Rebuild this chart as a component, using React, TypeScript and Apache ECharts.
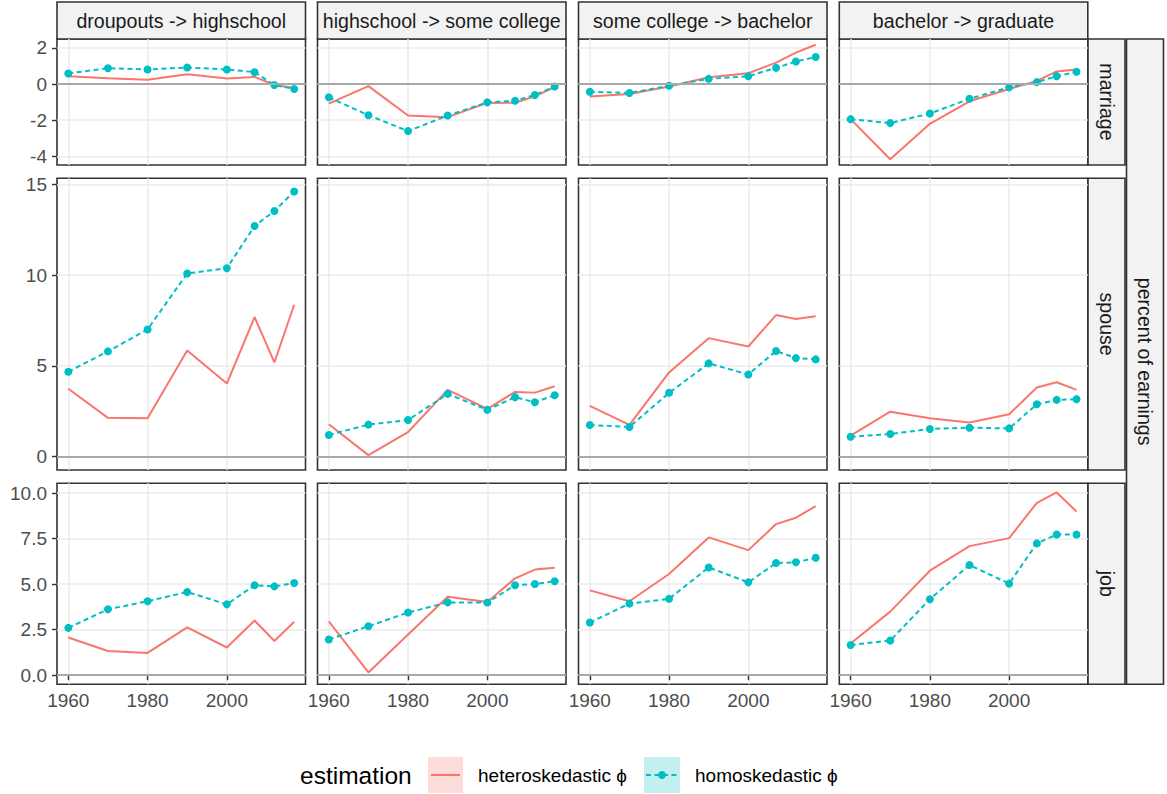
import React, { useEffect, useRef } from "react";
import * as echarts from "echarts";

const years = [1960, 1970, 1980, 1990, 2000, 2007, 2012, 2017];
const transitions = [
  "droupouts -> highschool",
  "highschool -> some college",
  "some college -> bachelor",
  "bachelor -> graduate",
];
const outcomes = ["marriage", "spouse", "job"];
const xTicks = [1960, 1980, 2000];
const yTicksMarriage = [-4, -2, 0, 2];
const yTicksSpouse = [0, 5, 10, 15];
const yTicksJob = [0, 2.5, 5, 7.5, 10];

// heteroskedastic phi, one list per transition (column)
const marriageHetero = [
  [0.44, 0.33, 0.24, 0.55, 0.31, 0.4, -0.05, -0.22],
  [-1.08, -0.11, -1.74, -1.83, -1.04, -1.03, -0.68, -0.16],
  [-0.68, -0.55, -0.13, 0.38, 0.6, 1.19, 1.74, 2.18],
  [-1.94, -4.16, -2.2, -0.95, -0.27, 0.18, 0.7, 0.81],
];
const marriageHomo = [
  [0.59, 0.88, 0.81, 0.92, 0.81, 0.66, -0.05, -0.27],
  [-0.73, -1.72, -2.6, -1.74, -1.01, -0.92, -0.6, -0.13],
  [-0.42, -0.49, -0.09, 0.29, 0.44, 0.9, 1.25, 1.5],
  [-1.94, -2.16, -1.63, -0.81, -0.18, 0.11, 0.44, 0.68],
];
const spouseHetero = [
  [3.74, 2.14, 2.12, 5.85, 4.03, 7.69, 5.19, 8.37],
  [1.79, 0.09, 1.36, 3.68, 2.63, 3.57, 3.53, 3.88],
  [2.8, 1.75, 4.64, 6.53, 6.07, 7.8, 7.58, 7.73],
  [1.16, 2.48, 2.12, 1.88, 2.34, 3.81, 4.1, 3.68],
];
const spouseHomo = [
  [4.68, 5.8, 7.01, 10.09, 10.38, 12.7, 13.53, 14.6],
  [1.2, 1.77, 2.02, 3.46, 2.58, 3.28, 3.0, 3.39],
  [1.75, 1.64, 3.52, 5.14, 4.53, 5.82, 5.43, 5.36],
  [1.1, 1.25, 1.53, 1.6, 1.56, 2.89, 3.13, 3.17],
];
const jobHetero = [
  [2.07, 1.33, 1.22, 2.63, 1.52, 3.0, 1.88, 2.93],
  [2.96, 0.15, 2.23, 4.31, 4.02, 5.32, 5.8, 5.9],
  [4.66, 4.06, 5.56, 7.57, 6.87, 8.3, 8.65, 9.29],
  [1.74, 3.49, 5.74, 7.09, 7.53, 9.47, 10.04, 8.99],
];
const jobHomo = [
  [2.6, 3.62, 4.06, 4.57, 3.89, 4.94, 4.88, 5.06],
  [1.96, 2.69, 3.44, 4.0, 3.99, 4.94, 5.01, 5.16],
  [2.89, 3.93, 4.19, 5.92, 5.1, 6.16, 6.2, 6.45],
  [1.66, 1.9, 4.17, 6.05, 5.03, 7.24, 7.73, 7.73],
];

const RED = "#F8766D";
const CYAN = "#00BFC4";
const FONT = "'Liberation Sans', Arial, Helvetica, sans-serif";

const colLeft = [57, 317.5, 578.5, 839.3];
const colWidth = 248.5;
const rowTop = [39, 178.3, 483.3];
const rowHeight = [126, 291.7, 201];

function buildOption() {
  const heteroRows = [marriageHetero, spouseHetero, jobHetero];
  const homoRows = [marriageHomo, spouseHomo, jobHomo];
  const yTickRows = [yTicksMarriage, yTicksSpouse, yTicksJob];
  const xMin = years[0] - 0.05 * (years[years.length - 1] - years[0]);
  const xMax = years[years.length - 1] + 0.05 * (years[years.length - 1] - years[0]);

  const grid: any[] = [];
  const xAxis: any[] = [];
  const yAxis: any[] = [];
  const series: any[] = [];
  const graphic: any[] = [];

  outcomes.forEach((_, ri) => {
    const all = [0, ...heteroRows[ri].flat(), ...homoRows[ri].flat()];
    const lo = Math.min(...all);
    const hi = Math.max(...all);
    const yMin = lo - 0.05 * (hi - lo);
    const yMax = hi + 0.05 * (hi - lo);
    transitions.forEach((__, ci) => {
      const idx = ri * 4 + ci;
      grid.push({
        left: colLeft[ci],
        top: rowTop[ri],
        width: colWidth,
        height: rowHeight[ri],
        show: true,
        backgroundColor: "#FFFFFF",
        borderColor: "#333333",
        borderWidth: 1.6,
        containLabel: false,
      });
      xAxis.push({
        type: "value",
        gridIndex: idx,
        min: xMin,
        max: xMax,
        axisLine: { show: false },
        axisTick: {
          show: ri === 2,
          length: 5,
          customValues: xTicks,
          lineStyle: { color: "#333333", width: 1.4 },
        },
        axisLabel: {
          show: ri === 2,
          customValues: xTicks,
          color: "#4D4D4D",
          fontSize: 19,
          fontFamily: FONT,
          margin: 7,
          formatter: (v: number) => String(v),
        },
        splitLine: { show: true, lineStyle: { color: "#EBEBEB", width: 1.5 } },
      });
      yAxis.push({
        type: "value",
        gridIndex: idx,
        min: yMin,
        max: yMax,
        axisLine: { show: false },
        axisTick: {
          show: ci === 0,
          length: 5,
          customValues: yTickRows[ri],
          lineStyle: { color: "#333333", width: 1.4 },
        },
        axisLabel: {
          show: ci === 0,
          customValues: yTickRows[ri],
          color: "#4D4D4D",
          fontSize: 19,
          fontFamily: FONT,
          margin: 10,
          formatter: (v: number) => (ri === 2 ? v.toFixed(1) : String(v)),
        },
        splitLine: { show: true, lineStyle: { color: "#EBEBEB", width: 1.5 } },
      });
      series.push({
        type: "line",
        name: "heteroskedastic ϕ",
        xAxisIndex: idx,
        yAxisIndex: idx,
        data: years.map((y, i) => [y, heteroRows[ri][ci][i]]),
        symbol: "none",
        showSymbol: false,
        lineStyle: { color: RED, width: 2 },
        z: 3,
        markLine: {
          silent: true,
          symbol: ["none", "none"],
          label: { show: false },
          lineStyle: { color: "#A8A8A8", width: 2.2, type: "solid" },
          data: [{ yAxis: 0 }],
        },
      });
      series.push({
        type: "line",
        name: "homoskedastic ϕ",
        xAxisIndex: idx,
        yAxisIndex: idx,
        data: years.map((y, i) => [y, homoRows[ri][ci][i]]),
        symbol: "circle",
        symbolSize: 8,
        itemStyle: { color: CYAN, borderWidth: 0 },
        lineStyle: { color: CYAN, width: 2, type: [5, 3.5] },
        z: 4,
      });
    });
  });

  // column strips
  transitions.forEach((t, ci) => {
    graphic.push({
      type: "rect",
      shape: { x: colLeft[ci], y: 2, width: colWidth, height: 37 },
      style: { fill: "#F2F2F2", stroke: "#333333", lineWidth: 1.6 },
    });
    graphic.push({
      type: "text",
      x: colLeft[ci] + colWidth / 2,
      y: 21,
      style: {
        text: t,
        fill: "#1A1A1A",
        font: `19.6px ${FONT}`,
        align: "center",
        verticalAlign: "middle",
      },
    });
  });
  // row strips
  outcomes.forEach((o, ri) => {
    graphic.push({
      type: "rect",
      shape: { x: 1088, y: rowTop[ri], width: 37, height: rowHeight[ri] },
      style: { fill: "#F2F2F2", stroke: "#333333", lineWidth: 1.6 },
    });
    graphic.push({
      type: "text",
      x: 1106.5,
      y: rowTop[ri] + rowHeight[ri] / 2,
      rotation: -Math.PI / 2,
      style: {
        text: o,
        fill: "#1A1A1A",
        font: `19.6px ${FONT}`,
        align: "center",
        verticalAlign: "middle",
      },
    });
  });
  // outer strip (y title)
  const outerTop = rowTop[0];
  const outerBottom = rowTop[2] + rowHeight[2];
  graphic.push({
    type: "rect",
    shape: { x: 1126.5, y: outerTop, width: 37, height: outerBottom - outerTop },
    style: { fill: "#F2F2F2", stroke: "#333333", lineWidth: 1.6 },
  });
  graphic.push({
    type: "text",
    x: 1145,
    y: (outerTop + outerBottom) / 2,
    rotation: -Math.PI / 2,
    style: {
      text: "percent of earnings",
      fill: "#1A1A1A",
      font: `19.6px ${FONT}`,
      align: "center",
      verticalAlign: "middle",
    },
  });

  // legend
  const ly = 775;
  graphic.push({
    type: "text",
    x: 300,
    y: ly,
    style: { text: "estimation", fill: "#000000", font: `24.5px ${FONT}`, align: "left", verticalAlign: "middle" },
  });
  graphic.push({
    type: "rect",
    shape: { x: 428, y: 757, width: 35, height: 36 },
    style: { fill: "#FDDCD9", stroke: "none" },
  });
  graphic.push({
    type: "line",
    shape: { x1: 431, y1: ly, x2: 460, y2: ly },
    style: { stroke: RED, lineWidth: 2 },
  });
  graphic.push({
    type: "text",
    x: 478,
    y: ly,
    style: { text: "heteroskedastic ϕ", fill: "#000000", font: `19px ${FONT}`, align: "left", verticalAlign: "middle" },
  });
  graphic.push({
    type: "rect",
    shape: { x: 644, y: 757, width: 36, height: 36 },
    style: { fill: "#C4EFF0", stroke: "none" },
  });
  graphic.push({
    type: "line",
    shape: { x1: 646, y1: ly, x2: 678, y2: ly },
    style: { stroke: CYAN, lineWidth: 2, lineDash: [5, 3.5] },
  });
  graphic.push({
    type: "circle",
    shape: { cx: 662, cy: ly, r: 4 },
    style: { fill: CYAN },
  });
  graphic.push({
    type: "text",
    x: 695,
    y: ly,
    style: { text: "homoskedastic ϕ", fill: "#000000", font: `19px ${FONT}`, align: "left", verticalAlign: "middle" },
  });

  return {
    animation: false,
    backgroundColor: "#FFFFFF",
    grid,
    xAxis,
    yAxis,
    series,
    graphic,
  };
}

export default function App() {
  const ref = useRef<HTMLDivElement>(null);
  useEffect(() => {
    if (!ref.current) return;
    const chart = echarts.init(ref.current, undefined, { renderer: "svg" });
    chart.setOption(buildOption() as any);
    return () => chart.dispose();
  }, []);
  return (
    <div
      ref={ref}
      style={{ position: "absolute", left: 0, top: 0, width: 1167, height: 794 }}
    />
  );
}
